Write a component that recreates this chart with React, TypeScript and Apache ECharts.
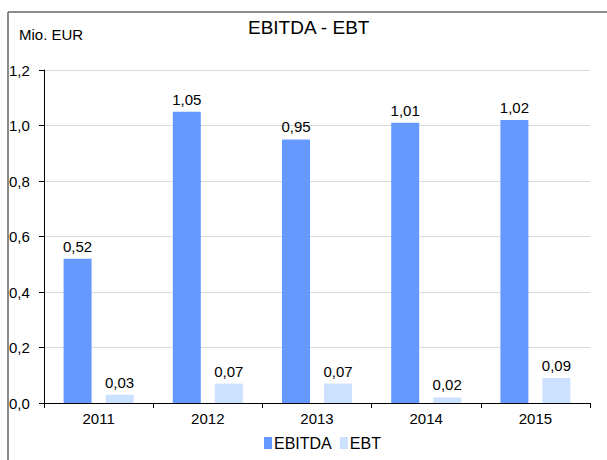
import React, { useEffect, useRef } from "react";
import * as echarts from "echarts";

const categories = ["2011", "2012", "2013", "2014", "2015"];
const ebitda = [0.52, 1.05, 0.95, 1.01, 1.02];
const ebt = [0.03, 0.07, 0.07, 0.02, 0.09];
const seriesNames = ["EBITDA", "EBT"];

const FONT = "'Liberation Sans', Arial, sans-serif";

export default function App() {
  const ref = useRef<HTMLDivElement>(null);
  useEffect(() => {
    if (!ref.current) return;
    const chart = echarts.init(ref.current, null, { renderer: "svg" });
    const labelFmt = (p: any) => Number(p.value).toFixed(2).replace(".", ",");
    chart.setOption({
      animation: false,
      textStyle: { fontFamily: FONT },
      title: {
        text: "EBITDA - EBT",
        left: 248,
        top: 18,
        padding: 0,
        textStyle: { fontFamily: FONT, fontSize: 19, fontWeight: "normal", color: "#000" },
      },
      legend: {
        data: seriesNames,
        top: 435,
        left: 264,
        padding: 0,
        itemWidth: 8,
        itemHeight: 12,
        itemGap: 8,
        icon: "rect",
        textStyle: { fontFamily: FONT, fontSize: 16, color: "#000", padding: [0, 0, 0, -3] },
      },
      graphic: [
        { type: "line", shape: { x1: 8, y1: 12, x2: 607, y2: 12 }, style: { stroke: "#666", lineWidth: 1.5 } },
        { type: "line", shape: { x1: 8, y1: 12, x2: 8, y2: 460 }, style: { stroke: "#666", lineWidth: 1.5 } },
        {
          type: "text",
          left: 19,
          top: 27,
          style: { text: "Mio. EUR", font: `15px ${FONT}`, fill: "#000" },
        },
      ],
      grid: { left: 44, right: 17, top: 70, bottom: 57 },
      xAxis: {
        type: "category",
        data: categories,
        axisLine: { lineStyle: { color: "#000", width: 1 } },
        axisTick: { show: true, alignWithLabel: false, length: 5, lineStyle: { color: "#000" } },
        axisLabel: { fontFamily: FONT, fontSize: 15, color: "#000", margin: 8 },
      },
      yAxis: {
        type: "value",
        min: 0,
        max: 1.2,
        interval: 0.2,
        axisLine: { show: true, lineStyle: { color: "#000", width: 1 } },
        axisTick: { show: true, length: 5, lineStyle: { color: "#000" } },
        splitLine: { lineStyle: { color: "#d9d9d9", width: 1 } },
        axisLabel: {
          fontFamily: FONT,
          fontSize: 15,
          color: "#000",
          align: "left",
          margin: 35,
          formatter: (v: number) => v.toFixed(1).replace(".", ","),
        },
      },
      series: [
        {
          name: seriesNames[0],
          type: "bar",
          data: ebitda,
          barWidth: 28,
          barGap: "50%",
          itemStyle: { color: "#6699ff" },
          label: { show: true, position: "top", distance: 5, fontFamily: FONT, fontSize: 15, color: "#000", formatter: labelFmt },
        },
        {
          name: seriesNames[1],
          type: "bar",
          data: ebt,
          barWidth: 28,
          barGap: "50%",
          itemStyle: { color: "#cce0ff" },
          label: { show: true, position: "top", distance: 5, fontFamily: FONT, fontSize: 15, color: "#000", formatter: labelFmt },
        },
      ],
    });
    return () => chart.dispose();
  }, []);
  return (
    <div
      ref={ref}
      style={{ position: "fixed", left: 0, top: 0, width: 607, height: 460, background: "#fff" }}
    />
  );
}
